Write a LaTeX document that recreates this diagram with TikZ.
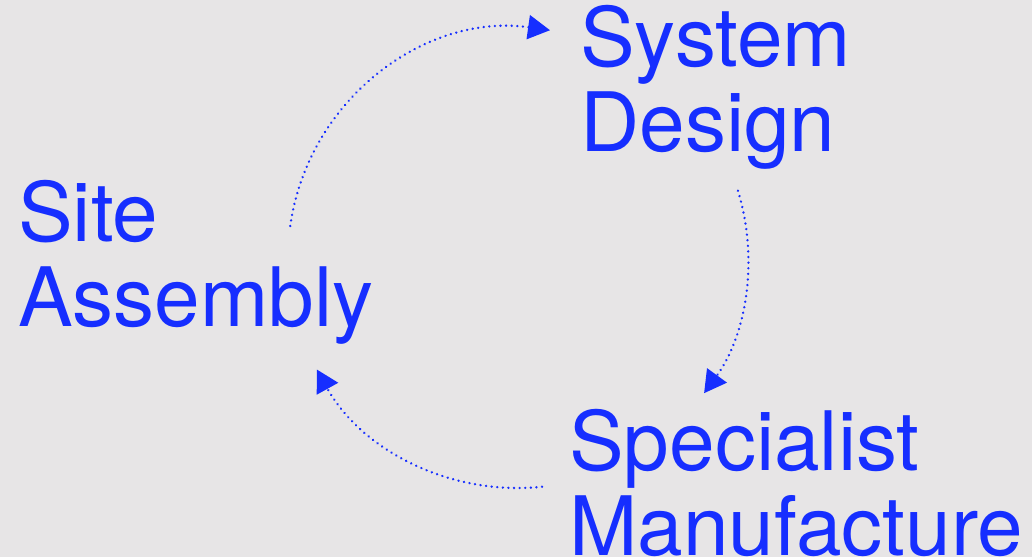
\documentclass[tikz,border=0pt]{standalone}
\usepackage{fontspec}
\setmainfont{TeX Gyre Heros}
\usetikzlibrary{arrows.meta}
\definecolor{cycleblue}{RGB}{22,46,255}
\definecolor{paper}{RGB}{231,229,230}

\tikzset{
  stage/.style={anchor=base west, align=left, inner sep=0pt, text=cycleblue,
    font=\fontsize{82}{85}\selectfont},
  flow/.style={cycleblue, line width=2.6pt, line cap=round,
    dash pattern=on 0.01pt off 5.6pt, -{Triangle[length=22pt,width=24pt]}}
}

\begin{document}
\begin{tikzpicture}[x=1pt,y=1pt]
\fill[paper] (0,0) rectangle (1032,557);
\useasboundingbox (0,0) rectangle (1032,557);

\node[stage] (site) at (18,230) {Site\\Assembly};
\node[stage] (design) at (580,405) {System\\Design};
\node[stage] (manuf) at (569,2) {Specialist\\Manufacture};

\coordinate (hub) at (518,299);

\draw[flow] ([shift={(172:230)}]hub) arc[start angle=172, end angle=82, radius=230];
\draw[flow] ([shift={(17:230)}]hub) arc[start angle=17, end angle=-36, radius=230];
\draw[flow] ([shift={(-84:230)}]hub) arc[start angle=-84, end angle=-151, radius=230];

\end{tikzpicture}
\end{document}
